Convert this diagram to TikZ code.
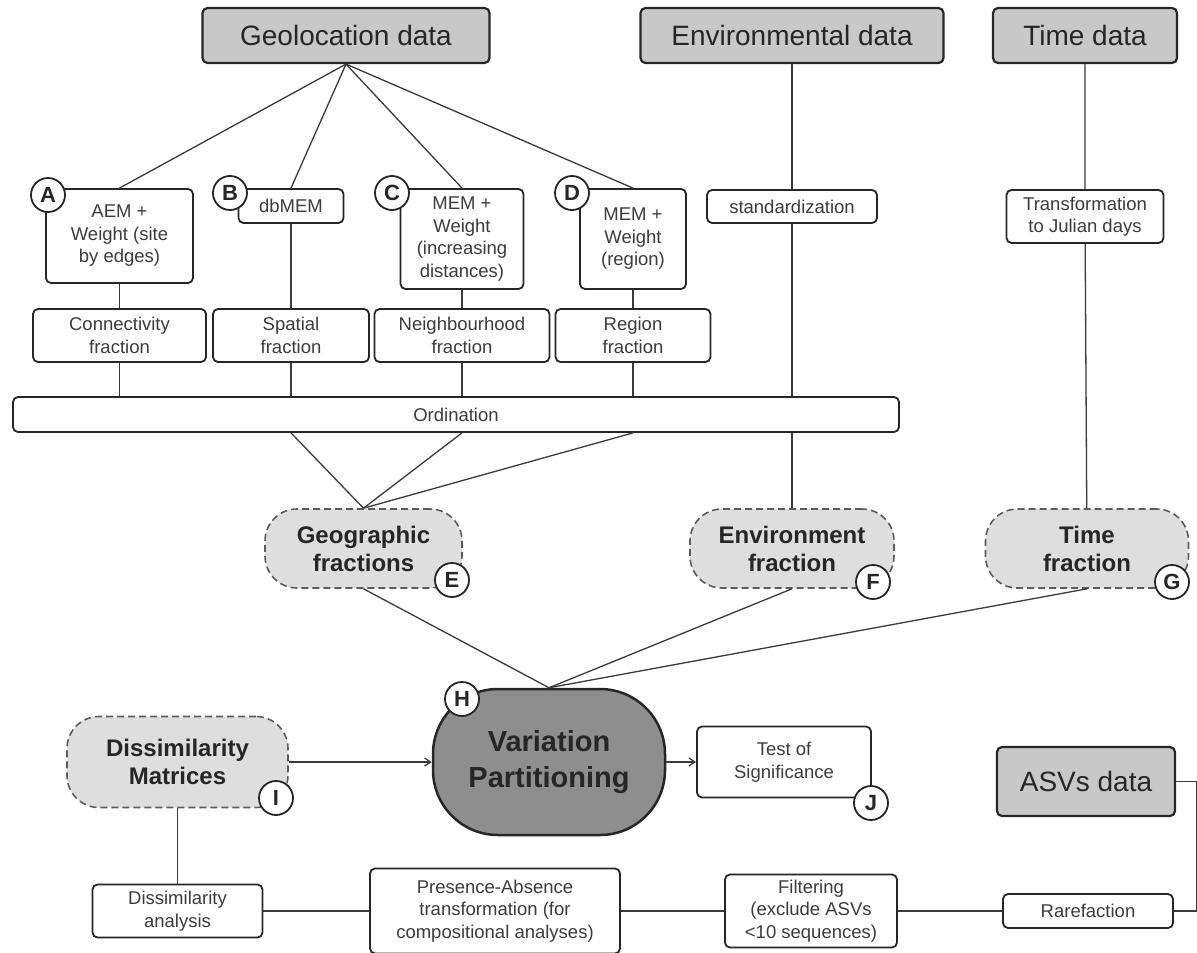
\documentclass[tikz,border=0pt]{standalone}
\usepackage{fontspec}
\setmainfont{Liberation Sans}
\usepackage{xcolor}
\usetikzlibrary{arrows.meta, positioning, calc}

\definecolor{datagray}{HTML}{C8C8C8}
\definecolor{fracgray}{HTML}{DEDEDE}
\definecolor{vpgray}{HTML}{8E8E8E}
\definecolor{inkgray}{HTML}{262626}
\definecolor{linegray}{HTML}{3A3A3A}

\tikzset{
    databox/.style={draw=inkgray, fill=datagray, line width=2.2pt, rounded corners=5pt,
        inner sep=0pt, text=inkgray, font=\fontsize{28}{32}\selectfont},
    stepbox/.style={draw=inkgray, fill=white, line width=1.8pt, rounded corners=5pt,
        inner sep=0pt, align=center, text=inkgray!90, font=\fontsize{18.5}{22.5}\selectfont},
    fracbox/.style={draw=inkgray!75, fill=fracgray, line width=1.6pt, dash pattern=on 7pt off 4pt,
        rounded corners=32pt, inner sep=0pt, align=center, text=inkgray,
        font=\fontsize{24}{28}\selectfont\bfseries},
    vpbox/.style={draw=inkgray, fill=vpgray, line width=2.5pt, rounded corners=65pt,
        inner sep=0pt, align=center, text=inkgray, font=\fontsize{29}{36}\selectfont\bfseries},
    tag/.style={circle, draw=inkgray, fill=white, line width=1.8pt, minimum size=34pt,
        inner sep=0pt, text=inkgray, font=\fontsize{22}{22}\selectfont\bfseries},
    link/.style={draw=linegray, line width=1.3pt},
    flow/.style={link, -{Straight Barb[length=6pt,width=8pt]}}
}

\begin{document}
\begin{tikzpicture}[x=1pt, y=-1pt]
\useasboundingbox (0,0) rectangle (1197,953);

% Data sources
\node[databox, minimum width=287pt, minimum height=55pt] (geo) at (346,35.5) {Geolocation data};
\node[databox, minimum width=303pt, minimum height=55pt] (env) at (792,35.5) {Environmental data};
\node[databox, minimum width=184pt, minimum height=55pt] (tim) at (1085,35.5) {Time data};

% Spatial models, standardization, time transformation
\node[stepbox, minimum width=147pt, minimum height=94pt] (aem) at (119.5,236) {AEM +\\Weight (site\\by edges)};
\node[stepbox, minimum width=105pt, minimum height=34pt] (dbmem) at (291,206) {dbMEM};
\node[stepbox, minimum width=123pt, minimum height=100pt] (memdist) at (462,239) {MEM +\\Weight\\(increasing\\distances)};
\node[stepbox, minimum width=106pt, minimum height=100pt] (memreg) at (633,239) {MEM +\\Weight\\(region)};
\node[stepbox, minimum width=170pt, minimum height=33pt] (std) at (792,206.5) {standardization};
\node[stepbox, minimum width=157pt, minimum height=53pt] (julian) at (1085,216.5) {Transformation\\to Julian days};

% Fractions and ordination
\node[stepbox, minimum width=173pt, minimum height=53pt] (conn) at (119.5,335.5) {Connectivity\\fraction};
\node[stepbox, minimum width=156pt, minimum height=53pt] (spat) at (291,335.5) {Spatial\\fraction};
\node[stepbox, minimum width=175pt, minimum height=53pt] (neigh) at (462,335.5) {Neighbourhood\\fraction};
\node[stepbox, minimum width=155pt, minimum height=53pt] (reg) at (633,335.5) {Region\\fraction};
\node[stepbox, minimum width=886pt, minimum height=35pt] (ord) at (456,414.5) {Ordination};

\node[fracbox, minimum width=197pt, minimum height=79pt] (geof) at (363.5,548.5) {Geographic\\fractions};
\node[fracbox, minimum width=204pt, minimum height=79pt] (envf) at (792,548.5) {Environment\\fraction};
\node[fracbox, minimum width=203pt, minimum height=79pt] (timf) at (1087,548.5) {Time\\fraction};

% Analysis
\node[vpbox, minimum width=232pt, minimum height=146pt] (varp) at (549,762) {Variation\\Partitioning};
\node[fracbox, minimum width=221pt, minimum height=91pt] (dism) at (177.5,762) {Dissimilarity\\Matrices};
\node[stepbox, minimum width=174pt, minimum height=71pt] (test) at (784,762) {Test of\\Significance};
\node[databox, minimum width=178pt, minimum height=69pt] (asv) at (1086,781.5) {ASVs data};

% ASV processing
\node[stepbox, minimum width=170pt, minimum height=53pt] (disa) at (177.5,911) {Dissimilarity\\analysis};
\node[stepbox, minimum width=250pt, minimum height=85pt] (pa) at (495,911) {Presence-Absence\\transformation (for\\compositional analyses)};
\node[stepbox, minimum width=172pt, minimum height=73pt] (filt) at (811,911) {Filtering\\(exclude ASVs\\<10 sequences)};
\node[stepbox, minimum width=170pt, minimum height=34pt] (rare) at (1088,911) {Rarefaction};

% Connectors
\foreach \m in {aem,dbmem,memdist,memreg}
    \draw[link] (geo.south) -- (\m.north);
\foreach \m/\f in {aem/conn, dbmem/spat, memdist/neigh, memreg/reg} {
    \draw[link] (\m.south) -- (\m.south |- \f.north);
    \draw[link] (\f.south) -- (\f.south |- ord.north);
}
\draw[link] (env) -- (std);
\draw[link] (std) -- (std |- ord.north);
\draw[link] (std |- ord.south) -- (envf);
\draw[link] (tim) -- (julian) -- (timf);
\foreach \f in {spat,neigh,reg}
    \draw[link] (\f |- ord.south) -- (geof.north);
\foreach \f in {geof,envf,timf}
    \draw[link] (\f.south) -- (varp.north);
\draw[flow] (dism) -- (varp);
\draw[flow] (varp) -- (test);
\draw[link] (dism) -- (disa);
\draw[link] (disa) -- (pa) -- (filt) -- (rare);
\draw[link] (asv.east) -- ++(21,0) |- (rare.east);

% Letter tags
\foreach \t/\px/\py in {A/48/195, B/230/193, C/392/193, D/572/193, E/452/580,
                         F/873/582, G/1172/582, H/462/699, I/276/798, J/871/803}
    \node[tag] (tag\t) at (\px,\py) {\t};

\end{tikzpicture}
\end{document}
